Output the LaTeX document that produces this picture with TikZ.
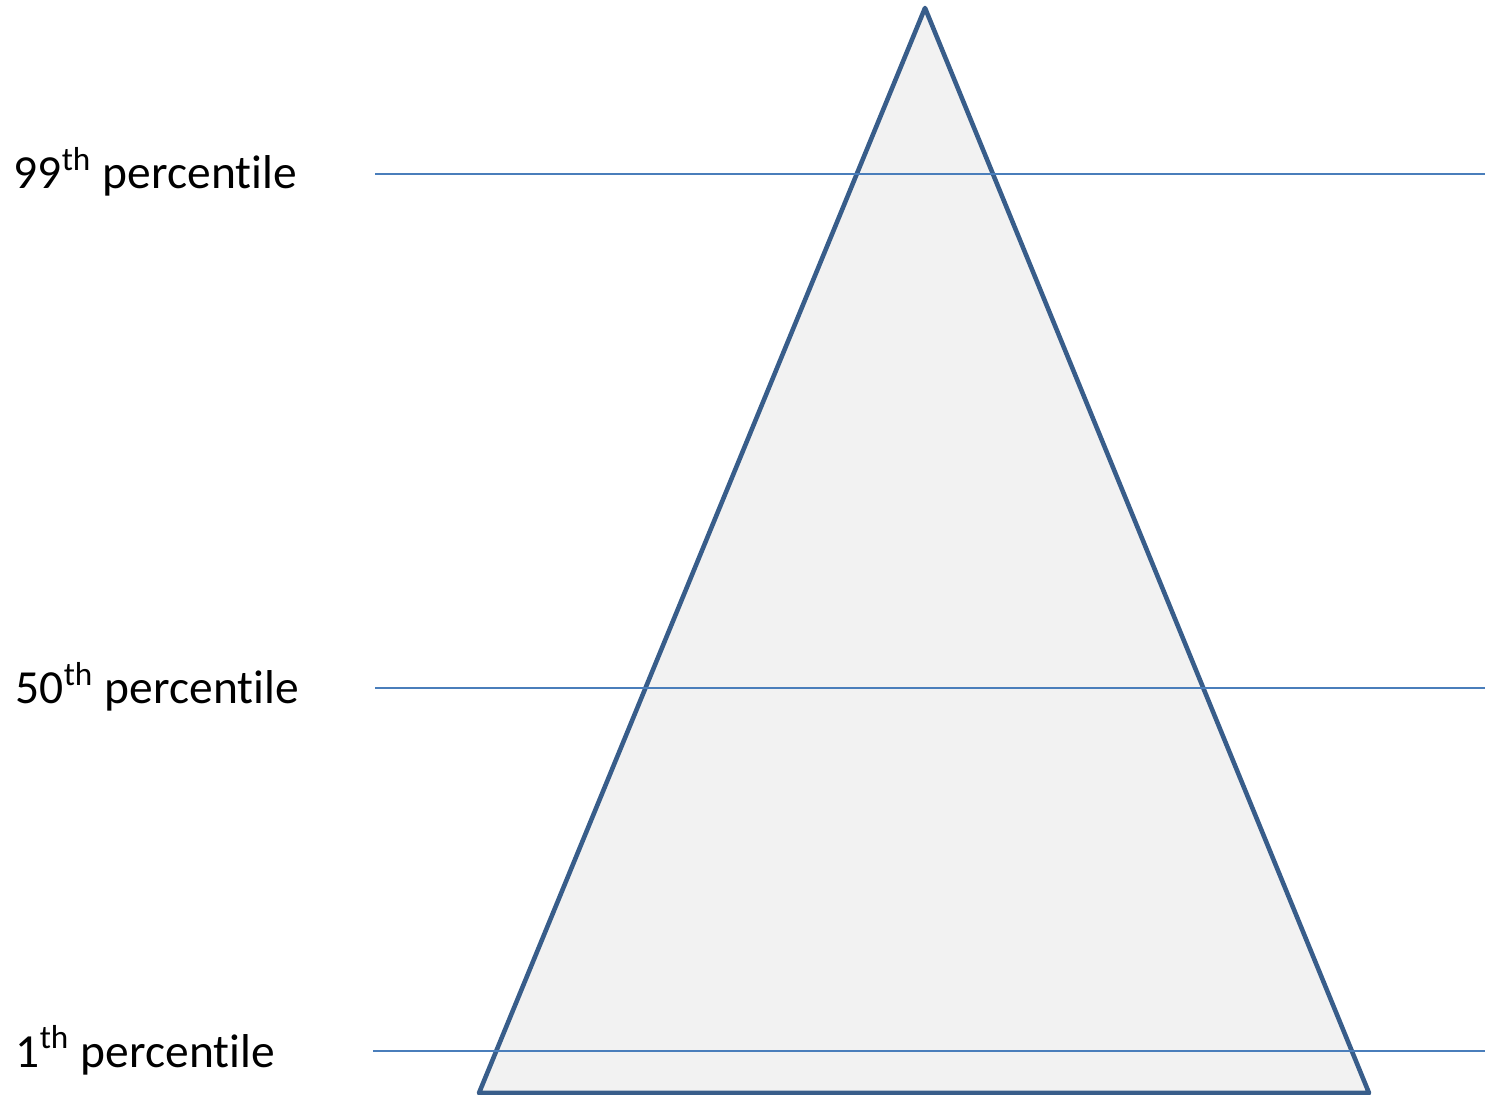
\documentclass[tikz,border=0pt]{standalone}
\usepackage{fontspec}
\setmainfont[Ligatures=NoCommon]{Carlito}
\usetikzlibrary{positioning}
\definecolor{pyrblue}{HTML}{385D8A}
\definecolor{pyrfill}{HTML}{F2F2F2}
\definecolor{lvlblue}{HTML}{4A7EBB}

\begin{document}
\begin{tikzpicture}[
        x=0.01cm, y=-0.01cm,
        pyramid/.style={draw=pyrblue, line width=1.3pt, fill=pyrfill, line join=round},
        level/.style={draw=lvlblue, line width=0.45pt},
        pctlabel/.style={anchor=base west, inner sep=0pt, font=\fontsize{13.5}{16}\selectfont}
    ]
        \useasboundingbox (0,0) rectangle (1485,1095);

        % Triangle
        \coordinate (apex) at (925,8);
        \coordinate (baseL) at (479,1093);
        \coordinate (baseR) at (1369,1093);
        \draw[pyramid] (apex) -- (baseR) -- (baseL) -- cycle;

        % Percentile lines
        \foreach \name/\y/\x in {p99/174/375, p50/688/375, p1/1051/373} {
            \coordinate (\name start) at (\x,\y);
            \coordinate (\name end) at (1485,\y);
            \draw[level] (\name start) -- (\name end);
        }

        % Labels
        \node[pctlabel] (l99) at (13,189) {99\textsuperscript{th} percentile};
        \node[pctlabel] (l50) at (15,704) {50\textsuperscript{th} percentile};
        \node[pctlabel] (l1) at (15,1067) {1\textsuperscript{th} percentile};
    \end{tikzpicture}
\end{document}
